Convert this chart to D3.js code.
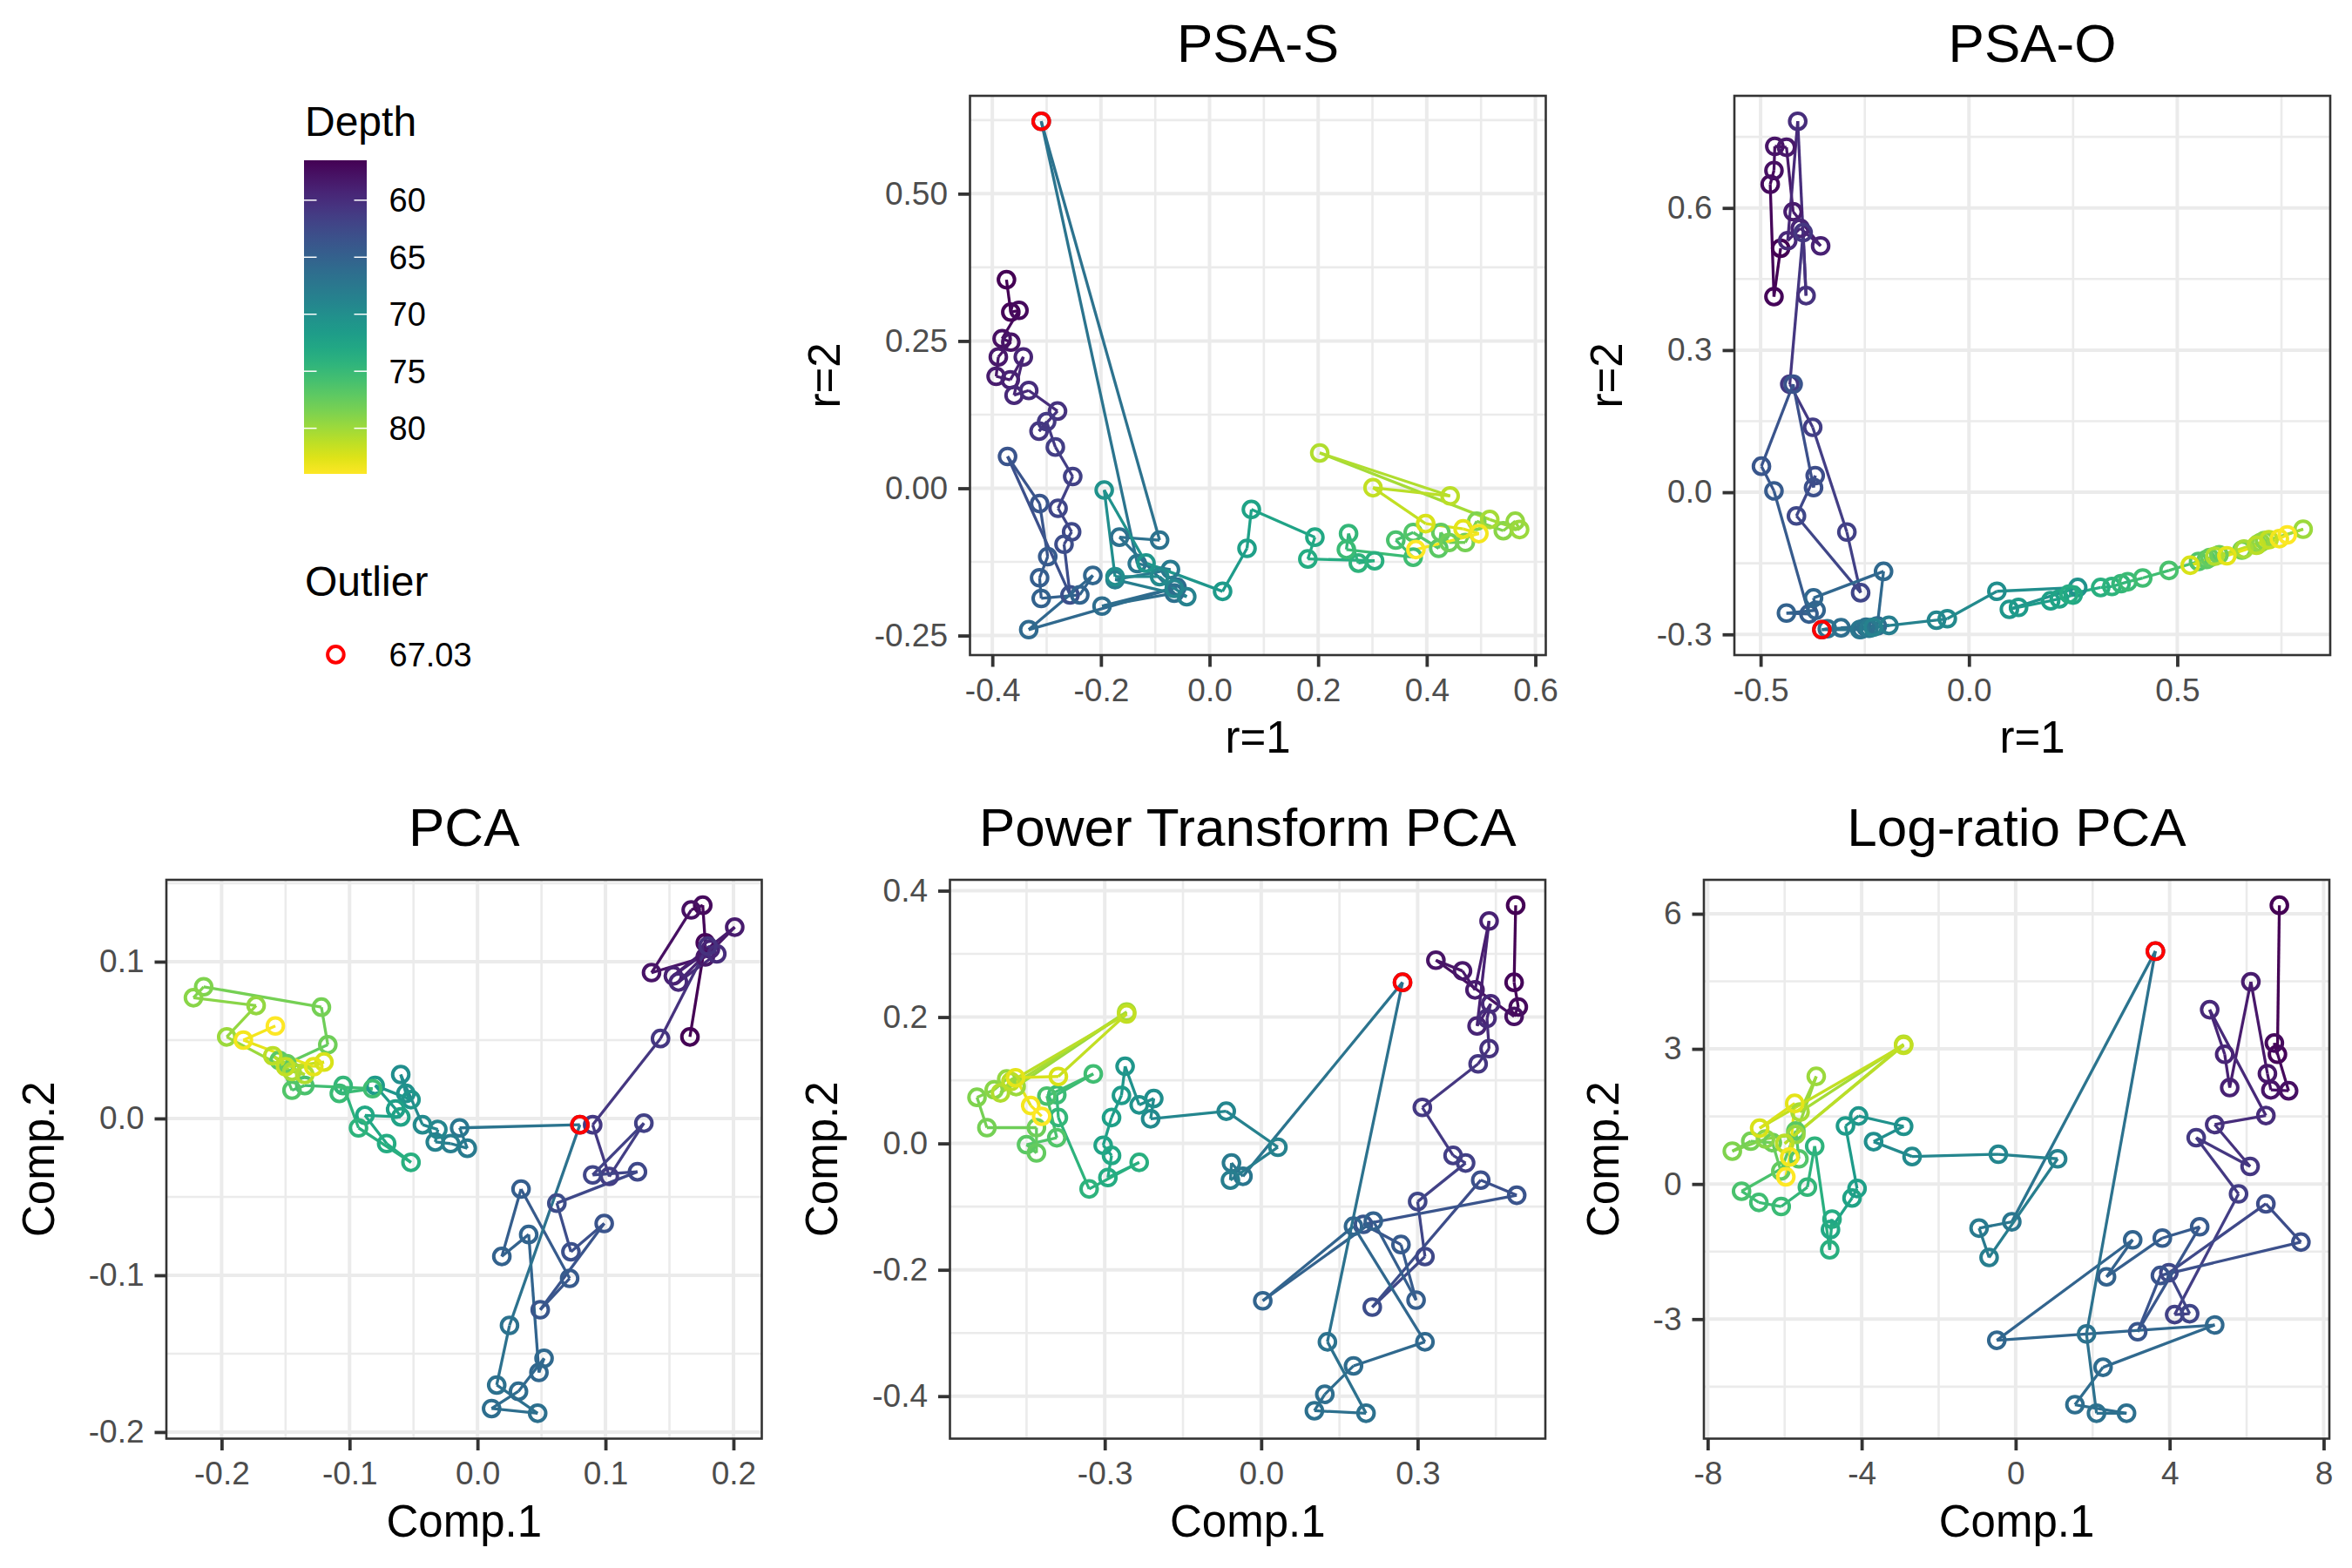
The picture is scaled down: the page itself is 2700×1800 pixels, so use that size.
<!DOCTYPE html>
<html>
<head>
<meta charset="utf-8">
<script src="https://d3js.org/d3.v7.min.js"></script>
<style>
  body { margin: 0; background: #fff; }
  text { font-family: "Liberation Sans", Arial, sans-serif; }
</style>
</head>
<body>
<script>
// sample depths in path order (one entry per sample, same order in every panel)
var depth = [56.5, 56.9, 57.2, 57.6, 57.9, 58.3, 58.6, 59.0, 59.3, 59.7, 60.0, 60.4, 60.8, 61.1,
  61.5, 61.8, 62.2, 62.5, 62.9, 63.2, 63.6, 63.9, 64.3, 64.6, 65.0, 65.3,
  65.6, 65.8, 66.1, 66.3, 66.5, 66.7, 66.9,
  67.03,
  67.3, 67.7, 68.2, 68.6, 69.1, 69.5, 70.0,
  70.5, 71.0, 71.5, 72.0,
  72.5, 73.0, 73.4, 73.8, 74.3, 74.7, 75.2, 75.6, 76.1, 76.5, 77.0, 77.4, 77.9,
  78.3, 78.7, 79.1, 79.5, 79.9, 80.3, 80.7, 81.1, 81.5,
  82.3, 82.9, 83.5, 84.0];
var outlierDepth = 67.03;

// PSA-S  (r=1, r=2)
var psaS = [[-0.374,0.354],[-0.366,0.299],[-0.351,0.302],[-0.382,0.254],[-0.366,0.248],[-0.389,0.223],
  [-0.393,0.190],[-0.367,0.184],[-0.343,0.223],[-0.360,0.158],[-0.333,0.166],[-0.280,0.131],[-0.314,0.097],
  [-0.300,0.113],[-0.284,0.070],[-0.252,0.020],[-0.279,-0.034],[-0.254,-0.074],[-0.268,-0.095],[-0.257,-0.181],
  [-0.372,0.054],[-0.313,-0.026],[-0.298,-0.116],[-0.313,-0.152],[-0.310,-0.187],[-0.239,-0.181],
  [-0.215,-0.148],[-0.333,-0.240],[-0.060,-0.168],[-0.198,-0.200],[-0.065,-0.178],[-0.166,-0.083],[-0.092,-0.088],
  [-0.310,0.623],
  [-0.133,-0.128],[-0.072,-0.138],[-0.174,-0.155],[-0.042,-0.184],[-0.065,-0.170],[-0.092,-0.150],[-0.174,-0.150],
  [-0.194,-0.003],[-0.117,-0.127],[0.024,-0.175],[0.069,-0.102],
  [0.077,-0.036],[0.194,-0.083],[0.181,-0.120],[0.304,-0.123],[0.274,-0.127],[0.256,-0.077],[0.252,-0.104],
  [0.375,-0.117],[0.343,-0.088],[0.375,-0.075],[0.422,-0.102],[0.426,-0.075],[0.441,-0.092],
  [0.471,-0.092],[0.492,-0.056],[0.541,-0.072],[0.563,-0.056],[0.571,-0.070],[0.516,-0.053],[0.203,0.060],
  [0.443,-0.013],[0.301,0.001],
  [0.398,-0.060],[0.467,-0.069],[0.496,-0.077],[0.380,-0.104]];

// PSA-O  (r=1, r=2)
var psaO = [[-0.452,0.515],[-0.468,0.413],[-0.477,0.650],[-0.468,0.679],[-0.466,0.730],[-0.438,0.728],
  [-0.422,0.592],[-0.356,0.520],[-0.405,0.557],[-0.435,0.531],[-0.411,0.783],[-0.391,0.415],[-0.398,0.548],
  [-0.430,0.228],[-0.375,0.137],[-0.293,-0.084],[-0.260,-0.212],[-0.414,-0.050],[-0.369,0.035],[-0.373,0.010],
  [-0.422,0.228],[-0.498,0.055],[-0.468,0.003],[-0.384,-0.257],[-0.438,-0.255],[-0.367,-0.249],
  [-0.373,-0.223],[-0.205,-0.167],[-0.220,-0.282],[-0.307,-0.286],[-0.258,-0.289],[-0.247,-0.285],[-0.340,-0.288],
  [-0.353,-0.290],
  [-0.262,-0.290],[-0.240,-0.287],[-0.192,-0.281],[-0.230,-0.285],[-0.078,-0.270],[-0.052,-0.267],[0.067,-0.209],
  [0.261,-0.201],[0.097,-0.247],[0.119,-0.243],[0.196,-0.229],
  [0.217,-0.225],[0.250,-0.217],[0.240,-0.215],[0.316,-0.201],[0.343,-0.199],[0.365,-0.193],[0.381,-0.189],
  [0.417,-0.181],[0.480,-0.165],[0.551,-0.146],[0.570,-0.142],[0.578,-0.138],[0.600,-0.132],
  [0.655,-0.122],[0.693,-0.110],[0.709,-0.102],[0.700,-0.106],[0.802,-0.078],[0.660,-0.120],[0.590,-0.135],
  [0.690,-0.112],[0.720,-0.100],
  [0.531,-0.154],[0.619,-0.134],[0.745,-0.098],[0.764,-0.090]];

// PCA  (Comp.1, Comp.2)
var pca = [[0.166,0.052],[0.178,0.112],[0.176,0.136],[0.167,0.133],[0.136,0.093],[0.178,0.103],[0.201,0.122],
  [0.153,0.091],[0.182,0.108],[0.157,0.087],[0.187,0.105],[0.180,0.110],[0.143,0.051],[0.090,-0.004],
  [0.103,-0.037],[0.130,-0.003],[0.090,-0.036],[0.125,-0.034],[0.062,-0.054],[0.073,-0.085],[0.099,-0.067],
  [0.049,-0.122],[0.072,-0.102],[0.034,-0.045],[0.019,-0.088],[0.040,-0.074],
  [0.048,-0.162],[0.052,-0.153],[0.032,-0.174],[0.011,-0.185],[0.047,-0.188],[0.015,-0.170],[0.025,-0.132],
  [0.080,-0.004],
  [-0.014,-0.006],[-0.008,-0.019],[-0.021,-0.016],[-0.033,-0.015],[-0.031,-0.007],[-0.043,-0.004],[-0.060,0.028],
  [-0.056,0.016],[-0.052,0.012],[-0.080,0.021],[-0.064,0.006],
  [-0.060,0.001],[-0.088,0.002],[-0.071,-0.016],[-0.052,-0.028],[-0.093,-0.006],[-0.105,0.021],[-0.108,0.016],
  [-0.082,0.019],[-0.135,0.021],[-0.145,0.018],[-0.155,0.037],[-0.149,0.035],[-0.117,0.047],
  [-0.122,0.071],[-0.214,0.084],[-0.222,0.077],[-0.173,0.072],[-0.196,0.052],[-0.145,0.030],[-0.135,0.028],
  [-0.160,0.040],[-0.150,0.033],
  [-0.120,0.036],[-0.128,0.033],[-0.183,0.050],[-0.158,0.059]];

// Power Transform PCA  (Comp.1, Comp.2)
var powerPca = [[0.488,0.377],[0.485,0.255],[0.493,0.216],[0.485,0.201],[0.335,0.290],[0.386,0.273],[0.410,0.243],
  [0.437,0.352],[0.414,0.186],[0.440,0.221],[0.433,0.198],[0.437,0.150],[0.416,0.126],[0.309,0.057],
  [0.368,-0.019],[0.392,-0.031],[0.300,-0.092],[0.314,-0.179],[0.213,-0.259],[0.421,-0.058],[0.490,-0.082],
  [0.196,-0.128],[0.268,-0.160],[0.297,-0.248],[0.215,-0.123],[0.003,-0.249],
  [0.177,-0.131],[0.314,-0.314],[0.177,-0.352],[0.122,-0.397],[0.102,-0.423],[0.201,-0.427],[0.127,-0.314],
  [0.271,0.255],
  [-0.035,-0.052],[-0.057,-0.031],[-0.059,-0.058],[0.032,-0.006],[-0.067,0.051],[-0.212,0.039],[-0.206,0.071],
  [-0.234,0.061],[-0.261,0.122],[-0.268,0.076],[-0.287,0.041],
  [-0.303,-0.003],[-0.287,-0.019],[-0.294,-0.054],[-0.234,-0.030],[-0.330,-0.072],[-0.389,0.041],[-0.392,0.077],
  [-0.322,0.110],[-0.411,0.075],[-0.392,0.009],[-0.450,-0.002],[-0.431,-0.015],[-0.431,0.025],
  [-0.526,0.025],[-0.545,0.073],[-0.512,0.085],[-0.488,0.102],[-0.470,0.090],[-0.258,0.208],[-0.500,0.080],
  [-0.480,0.098],[-0.258,0.205],
  [-0.389,0.106],[-0.471,0.104],[-0.442,0.060],[-0.421,0.043]];

// Log-ratio PCA  (Comp.1, Comp.2)
var logRatioPca = [[6.85,6.19],[6.80,2.88],[6.72,3.13],[7.09,2.07],[6.63,2.09],[6.54,2.45],[6.11,4.49],
  [5.56,2.14],[5.43,2.88],[5.04,3.87],[6.50,1.52],[5.17,1.32],[6.09,0.39],[4.69,1.03],
  [5.79,-0.22],[4.13,-2.90],[4.52,-2.88],[3.98,-1.97],[6.50,-0.44],[7.41,-1.29],[3.76,-2.03],
  [3.17,-3.28],[4.78,-0.95],[3.81,-1.20],[2.36,-2.06],[3.04,-1.24],
  [-0.49,-3.47],[5.17,-3.13],[2.27,-4.07],[1.54,-4.90],[2.88,-5.09],[2.10,-5.09],[1.84,-3.33],
  [3.63,5.17],
  [-0.10,-0.84],[-0.95,-0.98],[-0.69,-1.63],[1.09,0.56],[-0.45,0.66],[-2.69,0.61],[-3.69,0.94],
  [-2.91,1.28],[-4.08,1.51],[-4.42,1.29],[-4.12,-0.10],
  [-4.25,-0.31],[-4.81,-1.01],[-4.77,-0.78],[-4.83,-1.46],[-5.22,0.84],[-5.41,-0.07],[-6.09,-0.50],
  [-6.67,-0.41],[-7.12,-0.16],[-5.63,0.56],[-5.71,1.18],[-6.10,0.29],[-6.32,0.92],
  [-6.88,0.95],[-7.36,0.73],[-6.50,1.00],[-5.71,1.10],[-5.18,2.39],[-5.60,1.60],[-2.91,3.10],
  [-6.00,0.90],[-2.91,3.08],
  [-6.65,1.24],[-5.74,1.79],[-5.87,0.60],[-5.97,0.16]];

// axis breaks
var psaSxTicks = [-0.4, -0.2, 0, 0.2, 0.4, 0.6], psaSyTicks = [-0.25, 0, 0.25, 0.5];
var psaOxTicks = [-0.5, 0, 0.5], psaOyTicks = [-0.3, 0, 0.3, 0.6];
var pcaXTicks = [-0.2, -0.1, 0, 0.1, 0.2], pcaYTicks = [-0.2, -0.1, 0, 0.1];
var powerXTicks = [-0.3, 0, 0.3], powerYTicks = [-0.4, -0.2, 0, 0.2, 0.4];
var lrXTicks = [-8, -4, 0, 4, 8], lrYTicks = [-3, 0, 3, 6];
var depthTicks = [60, 65, 70, 75, 80];

var W = 2700, H = 1800;
var svg = d3.select("body").append("svg").attr("width", W).attr("height", H);
svg.append("rect").attr("width", W).attr("height", H).attr("fill", "#fff");

var loc = d3.formatLocale({decimal: ".", thousands: ",", grouping: [3], currency: ["", ""], minus: "-"});
var colour = d3.scaleSequential(d3.interpolateViridis).domain(d3.extent(depth));

var ptR = 9.3, ptW = 4, lineW = 3.3;

var panels = [
  {title: "PSA-S", xlab: "r=1", ylab: "r=2", pts: psaS, xt: psaSxTicks, yt: psaSyTicks, xf: ".1f", yf: ".2f", box: [1113.5, 110, 1774.5, 752]},
  {title: "PSA-O", xlab: "r=1", ylab: "r=2", pts: psaO, xt: psaOxTicks, yt: psaOyTicks, xf: ".1f", yf: ".1f", box: [1991, 110, 2675, 752]},
  {title: "PCA", xlab: "Comp.1", ylab: "Comp.2", pts: pca, xt: pcaXTicks, yt: pcaYTicks, xf: ".1f", yf: ".1f", box: [191, 1010, 874.5, 1651.5]},
  {title: "Power Transform PCA", xlab: "Comp.1", ylab: "Comp.2", pts: powerPca, xt: powerXTicks, yt: powerYTicks, xf: ".1f", yf: ".1f", box: [1090.5, 1010, 1774, 1651.5]},
  {title: "Log-ratio PCA", xlab: "Comp.1", ylab: "Comp.2", pts: logRatioPca, xt: lrXTicks, yt: lrYTicks, xf: "d", yf: "d", box: [1956, 1010, 2674, 1651.5]}
];

// ggplot-style 5% expansion
function expand(v) {
  var e = d3.extent(v), d = (e[1] - e[0]) * 0.05;
  return [e[0] - d, e[1] + d];
}
function minors(t, dom) {
  var step = t[1] - t[0], out = [];
  for (var i = -1; i < t.length; i++) {
    var m = t[0] + step * (i + 0.5);
    if (m > dom[0] && m < dom[1]) out.push(m);
  }
  return out;
}

panels.forEach(function(p) {
  var b = p.box;
  var x = d3.scaleLinear().domain(expand(p.pts.map(function(d) { return d[0]; }))).range([b[0], b[2]]);
  var y = d3.scaleLinear().domain(expand(p.pts.map(function(d) { return d[1]; }))).range([b[3], b[1]]);
  var g = svg.append("g");

  // grid
  var grid = g.append("g");
  minors(p.xt, x.domain()).forEach(function(v) {
    grid.append("line").attr("x1", x(v)).attr("x2", x(v)).attr("y1", b[1]).attr("y2", b[3])
      .attr("stroke", "#ebebeb").attr("stroke-width", 2.6);
  });
  minors(p.yt, y.domain()).forEach(function(v) {
    grid.append("line").attr("x1", b[0]).attr("x2", b[2]).attr("y1", y(v)).attr("y2", y(v))
      .attr("stroke", "#ebebeb").attr("stroke-width", 2.6);
  });
  p.xt.forEach(function(v) {
    grid.append("line").attr("x1", x(v)).attr("x2", x(v)).attr("y1", b[1]).attr("y2", b[3])
      .attr("stroke", "#ebebeb").attr("stroke-width", 4);
  });
  p.yt.forEach(function(v) {
    grid.append("line").attr("x1", b[0]).attr("x2", b[2]).attr("y1", y(v)).attr("y2", y(v))
      .attr("stroke", "#ebebeb").attr("stroke-width", 4);
  });

  // path, each segment coloured by its starting sample
  var rows = p.pts.map(function(d, i) { return {x: d[0], y: d[1], depth: depth[i]}; });
  g.selectAll(".seg").data(d3.pairs(rows)).enter().append("line")
    .attr("x1", function(s) { return x(s[0].x); })
    .attr("y1", function(s) { return y(s[0].y); })
    .attr("x2", function(s) { return x(s[1].x); })
    .attr("y2", function(s) { return y(s[1].y); })
    .attr("stroke", function(s) { return colour(s[0].depth); })
    .attr("stroke-width", lineW)
    .attr("stroke-linecap", "butt");

  g.selectAll(".pt").data(rows).enter().append("circle")
    .attr("cx", function(d) { return x(d.x); })
    .attr("cy", function(d) { return y(d.y); })
    .attr("r", ptR)
    .attr("fill", "none")
    .attr("stroke", function(d) { return colour(d.depth); })
    .attr("stroke-width", ptW);

  g.selectAll(".out").data(rows.filter(function(d) { return d.depth === outlierDepth; })).enter().append("circle")
    .attr("cx", function(d) { return x(d.x); })
    .attr("cy", function(d) { return y(d.y); })
    .attr("r", ptR)
    .attr("fill", "none")
    .attr("stroke", "#ff0000")
    .attr("stroke-width", ptW);

  g.append("rect").attr("x", b[0]).attr("y", b[1]).attr("width", b[2] - b[0]).attr("height", b[3] - b[1])
    .attr("fill", "none").attr("stroke", "#333333").attr("stroke-width", 2.6);

  // axes
  var gx = svg.append("g").attr("transform", "translate(0," + b[3] + ")")
    .call(d3.axisBottom(x).tickValues(p.xt).tickFormat(loc.format(p.xf)).tickSize(13.5).tickPadding(13));
  var gy = svg.append("g").attr("transform", "translate(" + b[0] + ",0)")
    .call(d3.axisLeft(y).tickValues(p.yt).tickFormat(loc.format(p.yf)).tickSize(13.5).tickPadding(12));
  [gx, gy].forEach(function(a) {
    a.select(".domain").remove();
    a.selectAll(".tick line").attr("stroke", "#333333").attr("stroke-width", 3.8);
    a.selectAll(".tick text").attr("fill", "#4d4d4d")
      .style("font-size", "37px").style("font-family", '"Liberation Sans", Arial, sans-serif');
  });

  var cx = (b[0] + b[2]) / 2, cy = (b[1] + b[3]) / 2;
  svg.append("text").attr("x", cx).attr("y", b[1] - 38.7).attr("text-anchor", "middle")
    .style("font-size", "62px").attr("fill", "#000").text(p.title);
  svg.append("text").attr("x", cx).attr("y", b[3] + 112).attr("text-anchor", "middle")
    .style("font-size", "51px").attr("fill", "#000").text(p.xlab);
  var left = b[0] + gy.node().getBBox().x - 40;
  svg.append("text").attr("transform", "translate(" + left + "," + cy + ") rotate(-90)")
    .attr("text-anchor", "middle").style("font-size", "51px").attr("fill", "#000").text(p.ylab);
});

// legend: Depth colourbar
var lg = svg.append("g");
lg.append("text").attr("x", 350).attr("y", 156).style("font-size", "48px").attr("fill", "#000").text("Depth");
var ly = d3.scaleLinear().domain(d3.extent(depth)).range([184, 544]);
var grad = svg.append("defs").append("linearGradient").attr("id", "depthGrad")
  .attr("x1", 0).attr("y1", 0).attr("x2", 0).attr("y2", 1);
d3.range(0, 1.0001, 0.05).forEach(function(t) {
  grad.append("stop").attr("offset", t)
    .attr("stop-color", colour(ly.domain()[0] + t * (ly.domain()[1] - ly.domain()[0])));
});
lg.append("rect").attr("x", 349).attr("y", 184).attr("width", 72).attr("height", 360).attr("fill", "url(#depthGrad)");
depthTicks.forEach(function(v) {
  lg.append("line").attr("x1", 349).attr("x2", 363.5).attr("y1", ly(v)).attr("y2", ly(v))
    .attr("stroke", "#fff").attr("stroke-width", 1.5);
  lg.append("line").attr("x1", 406.5).attr("x2", 421).attr("y1", ly(v)).attr("y2", ly(v))
    .attr("stroke", "#fff").attr("stroke-width", 1.5);
  lg.append("text").attr("x", 446.5).attr("y", ly(v) + 13.5).style("font-size", "38px").attr("fill", "#000").text(v);
});

// legend: outlier
lg.append("text").attr("x", 350).attr("y", 684).style("font-size", "48px").attr("fill", "#000").text("Outlier");
lg.append("circle").attr("cx", 385.4).attr("cy", 751.4).attr("r", ptR)
  .attr("fill", "none").attr("stroke", "#ff0000").attr("stroke-width", ptW);
lg.append("text").attr("x", 446.5).attr("y", 765).style("font-size", "38px").attr("fill", "#000")
  .text(d3.format(".2f")(outlierDepth));
</script>
</body>
</html>
